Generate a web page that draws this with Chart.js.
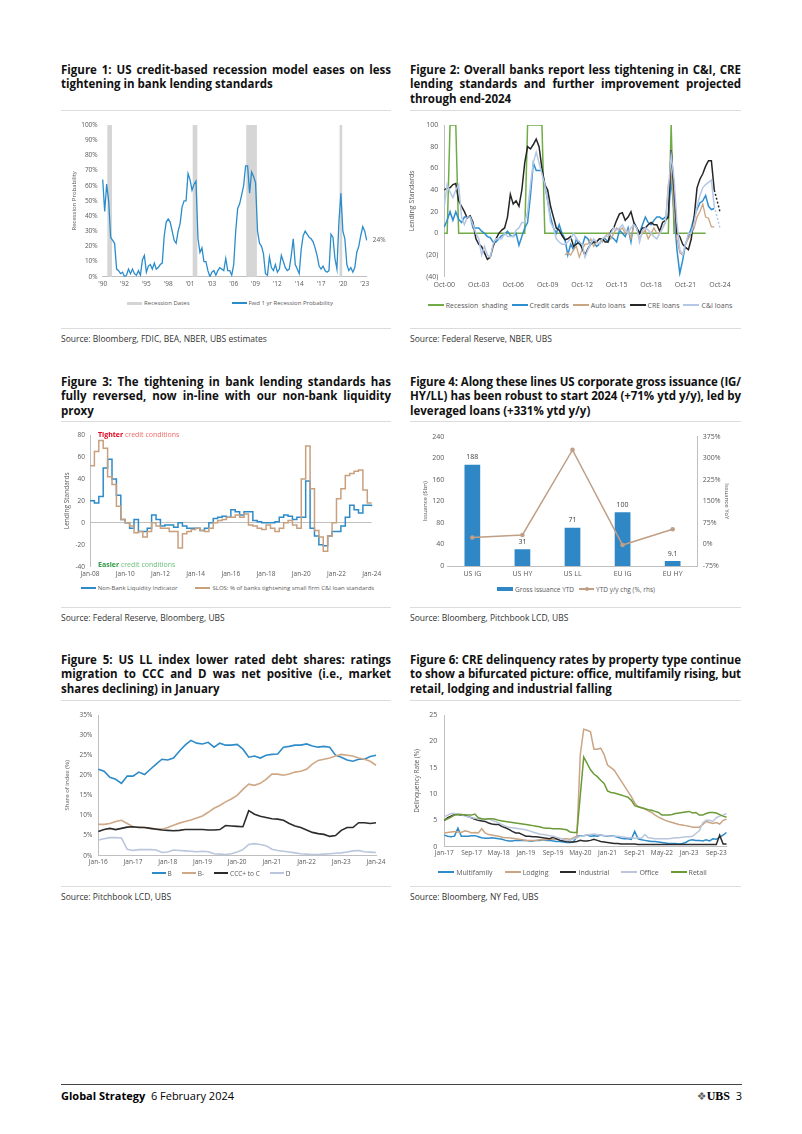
<!DOCTYPE html>
<html><head><meta charset="utf-8">
<script src="https://cdn.jsdelivr.net/npm/chart.js@4/dist/chart.umd.min.js"></script>
<style>
html,body{margin:0;padding:0;background:#fff}
body{width:802px;height:1134px;position:relative;overflow:hidden;font-family:'Open Sans',sans-serif;color:#000}
.t{position:absolute;font-weight:700;font-size:11.5px;line-height:14.8px;color:#111}
.t div{text-align:justify;text-align-last:justify}
.t div.last{text-align-last:left}
.rule{position:absolute;height:1px;background:#dcdcdc}
.src{position:absolute;font-size:8.5px;color:#333;line-height:12px;white-space:nowrap}
.cw{position:absolute}
.lg{position:absolute;display:flex;justify-content:center;align-items:center;color:#595959;white-space:nowrap;height:12px}
.lg .it{display:flex;align-items:center}
.lg .mk{display:inline-block;margin-right:2px;position:relative}
.dot{position:absolute;left:50%;top:50%;width:4px;height:4px;border-radius:50%;margin:-2px 0 0 -2px}
</style></head><body>

<!-- Titles -->
<div class="t" style="left:61px;top:62.6px;width:330px">
<div>Figure 1: US credit-based recession model eases on less</div>
<div class="last">tightening in bank lending standards</div></div>
<div class="t" style="left:410px;top:62.6px;width:331px">
<div>Figure 2: Overall banks report less tightening in C&amp;I, CRE</div>
<div>lending standards and further improvement projected</div>
<div class="last">through end-2024</div></div>
<div class="t" style="left:61px;top:374.6px;width:330px">
<div>Figure 3: The tightening in bank lending standards has</div>
<div>fully reversed, now in-line with our non-bank liquidity</div>
<div class="last">proxy</div></div>
<div class="t" style="left:410px;top:374.6px;width:331px">
<div>Figure 4: Along these lines US corporate gross issuance (IG/</div>
<div>HY/LL) has been robust to start 2024 (+71% ytd y/y), led by</div>
<div class="last">leveraged loans (+331% ytd y/y)</div></div>
<div class="t" style="left:61px;top:652.6px;width:330px">
<div>Figure 5: US LL index lower rated debt shares: ratings</div>
<div>migration to CCC and D was net positive (i.e., market</div>
<div class="last">shares declining) in January</div></div>
<div class="t" style="left:410px;top:652.6px;width:331px">
<div>Figure 6: CRE delinquency rates by property type continue</div>
<div>to show a bifurcated picture: office, multifamily rising, but</div>
<div class="last">retail, lodging and industrial falling</div></div>

<!-- Rules -->
<div class="rule" style="left:61px;top:110px;width:330px"></div>
<div class="rule" style="left:410px;top:110px;width:331px"></div>
<div class="rule" style="left:61px;top:328px;width:330px"></div>
<div class="rule" style="left:410px;top:328px;width:331px"></div>
<div class="rule" style="left:61px;top:421px;width:330px"></div>
<div class="rule" style="left:410px;top:421px;width:331px"></div>
<div class="rule" style="left:61px;top:607px;width:330px"></div>
<div class="rule" style="left:410px;top:607px;width:331px"></div>
<div class="rule" style="left:61px;top:700px;width:330px"></div>
<div class="rule" style="left:410px;top:700px;width:331px"></div>
<div class="rule" style="left:61px;top:886px;width:330px"></div>
<div class="rule" style="left:410px;top:886px;width:331px"></div>

<!-- Sources -->
<div class="src" style="left:61px;top:333px">Source: Bloomberg, FDIC, BEA, NBER, UBS estimates</div>
<div class="src" style="left:410px;top:333px">Source: Federal Reserve, NBER, UBS</div>
<div class="src" style="left:61px;top:612px">Source: Federal Reserve, Bloomberg, UBS</div>
<div class="src" style="left:410px;top:612px">Source: Bloomberg, Pitchbook LCD, UBS</div>
<div class="src" style="left:61px;top:891px">Source: Pitchbook LCD, UBS</div>
<div class="src" style="left:410px;top:891px">Source: Bloomberg, NY Fed, UBS</div>

<!-- Charts -->
<div class="cw" style="left:61px;top:113px;width:330px;height:178px"><canvas id="c1"></canvas></div>
<div class="cw" style="left:405px;top:113px;width:345px;height:180px"><canvas id="c2"></canvas></div>
<div class="cw" style="left:61px;top:423px;width:330px;height:158px"><canvas id="c3"></canvas></div>
<div class="cw" style="left:405px;top:423px;width:345px;height:157px"><canvas id="c4"></canvas></div>
<div class="cw" style="left:61px;top:703px;width:330px;height:165px"><canvas id="c5"></canvas></div>
<div class="cw" style="left:410px;top:703px;width:335px;height:157px"><canvas id="c6"></canvas></div>

<!-- Legends -->
<div class="lg" style="left:65px;top:297px;width:330px;font-size:6px;gap:42px">
 <span class="it"><span class="mk" style="width:15px;height:3px;background:#d5d5d5"></span>Recession Dates</span>
 <span class="it"><span class="mk" style="width:15px;height:1.5px;background:#2b8ccb"></span>Fwd 1 yr Recession Probability</span>
</div>
<div class="lg" style="left:405px;top:299px;width:350px;font-size:7px;gap:4px">
 <span class="it"><span class="mk" style="width:16px;height:2px;background:#6fac46"></span>Recession&nbsp; shading</span>
 <span class="it"><span class="mk" style="width:16px;height:2px;background:#2e8fd0"></span>Credit cards</span>
 <span class="it"><span class="mk" style="width:16px;height:2px;background:#c9a584"></span>Auto loans</span>
 <span class="it"><span class="mk" style="width:16px;height:2px;background:#262626"></span>CRE loans</span>
 <span class="it"><span class="mk" style="width:16px;height:2px;background:#b4c7e7"></span>C&amp;I loans</span>
</div>
<div class="lg" style="left:61px;top:582px;width:333px;font-size:6px;gap:18px">
 <span class="it"><span class="mk" style="width:15px;height:2px;background:#2e8bc9"></span>Non-Bank Liquidity Indicator</span>
 <span class="it"><span class="mk" style="width:15px;height:2px;background:#c8a07e"></span>SLOS: % of banks tightening small firm C&amp;I loan standards</span>
</div>
<div class="lg" style="left:410px;top:583px;width:332px;font-size:6.5px;gap:5px">
 <span class="it"><span class="mk" style="width:16px;height:4px;background:#2f87c6"></span>Gross issuance YTD</span>
 <span class="it"><span class="mk" style="width:15px;height:1.5px;background:#bf9f86"><span class="dot" style="background:#bf9f86"></span></span>YTD y/y chg (%, rhs)</span>
</div>
<div class="lg" style="left:61px;top:867px;width:320px;font-size:6.5px;gap:10px">
 <span class="it"><span class="mk" style="width:14px;height:2px;background:#2e8bc9"></span>B</span>
 <span class="it"><span class="mk" style="width:14px;height:2px;background:#cfa886"></span>B-</span>
 <span class="it"><span class="mk" style="width:14px;height:2px;background:#2b2b2b"></span>CCC+ to C</span>
 <span class="it"><span class="mk" style="width:14px;height:2px;background:#b9c6dc"></span>D</span>
</div>
<div class="lg" style="left:410px;top:866px;width:325px;font-size:7px;gap:12px">
 <span class="it"><span class="mk" style="width:16px;height:2px;background:#2e8bc9"></span>Multifamily</span>
 <span class="it"><span class="mk" style="width:16px;height:2px;background:#c9a584"></span>Lodging</span>
 <span class="it"><span class="mk" style="width:16px;height:2px;background:#2b2b2b"></span>Industrial</span>
 <span class="it"><span class="mk" style="width:16px;height:2px;background:#b9c6dc"></span>Office</span>
 <span class="it"><span class="mk" style="width:16px;height:2px;background:#6b9b37"></span>Retail</span>
</div>

<!-- Footer -->
<div class="rule" style="left:61px;top:1084px;width:681px;background:#444"></div>
<div style="position:absolute;left:61px;top:1089px;font-size:11px;line-height:14px;white-space:nowrap"><b>Global Strategy</b>&nbsp; 6 February 2024</div>
<div style="position:absolute;right:60px;top:1089px;font-size:11px;line-height:14px;white-space:nowrap"><span style="color:#666;font-family:'DejaVu Sans'">❖</span><span style="font-family:'Liberation Serif';font-weight:700;font-size:12px">UBS</span>&nbsp; 3</div>

<script>
// ---------------- DATA ----------------
// Figure 1 (quarterly from 1990Q1)
const fig1XTicks = ["'90","'92","'95","'98","'01","'03","'06","'09","'12","'14","'17","'20","'23"];
const fig1Prob = [64,43,61,50,26,24,22,5,4,2,
 3,0,1,5,2,5,2,1,4,1,
 11,14,3,7,8,5,9,5,6,8,
 9,27,36,38,36,30,24,22,30,35,
 46,50,50,68,64,57,61,63,25,16,
 19,10,10,4,0,3,4,1,4,6,
 5,4,12,4,4,1,8,30,45,48,
 54,60,73,73,55,69,66,62,30,22,
 20,15,2,1,13,6,4,8,3,5,
 14,10,6,4,5,14,25,8,5,2,
 18,27,30,28,26,25,23,19,14,7,
 5,7,4,3,4,28,26,12,5,36,
 55,30,25,8,4,6,3,6,16,20,
 27,33,30,24];
const fig1RecessionQuarters = ['1990Q4','1991Q1','2001Q3','2001Q4','2008Q2','2008Q3','2008Q4','2009Q1','2009Q2','2020Q1'];

// Figure 2 (quarterly from Oct-00)
const fig2Recession = [0,0,100,100,100,0,0,0,0,0, 0,0,0,0,0,0,0,0,0,0, 0,0,0,0,0,0,0,0,0,100,
 100,100,100,100,100,0,0,0,0,0, 0,0,0,0,0,0,0,0,0,0, 0,0,0,0,0,0,0,0,0,0, 0,0,0,0,0,0,0,0,0,0,
 0,0,0,0,0,0,0,0,0,100, 0,0,0,0,0,0,0,0,0,0, 0,0,null,null,null,null,null];
const fig2CreditCards = [6,12,20,12,20,13,10,15,15,16,
 5,5,5,2,0,-3,-4,-8,-8,-5,
 -2,-1,2,-2,-3,0,-11,-3,5,10,
 35,65,58,58,58,45,30,15,5,0,
 8,0,-5,-20,-10,-15,-5,-10,-12,-3,
 -5,-10,-8,-12,-10,-5,-5,-8,-3,-5,
 -8,3,0,-3,5,-8,10,5,0,8,
 15,10,8,12,15,15,13,15,15,50,
 20,-15,-37,-25,-10,-3,5,15,22,28,
 30,35,25,22,23,null,null];
const fig2Auto = [null,null,null,null,null,null,null,null,null,null,
 null,null,null,null,null,null,null,null,null,null,
 null,null,null,null,null,null,null,null,null,null,
 null,null,null,null,null,null,null,null,null,null,
 null,null,-20,-18,-20,-15,-12,-22,-15,-10,
 -10,-5,-12,-8,-5,-8,-3,0,-5,0,
 5,3,5,0,3,-5,8,5,-5,0,
 3,-5,0,5,0,0,5,10,45,55,
 20,-5,-18,-20,-10,-5,0,5,15,20,
 27,15,14,6,6,null,null];
const fig2CRE = [40,42,42,45,46,30,25,20,14,16,
 10,-5,-10,-12,-18,-24,-22,-12,-5,0,
 3,5,15,36,27,30,25,40,65,80,
 78,82,87,80,60,45,40,25,15,5,
 3,-2,-6,-5,-3,-12,-10,-8,-14,-20,
 -14,-10,-8,-8,-5,-5,-8,-8,2,5,
 12,18,19,12,15,20,10,5,0,5,
 5,8,10,8,8,2,10,12,15,77,
 40,0,-3,-10,-13,-15,-5,15,42,50,
 55,62,67,67,40,30,20];
const fig2CI = [25,45,38,33,40,45,15,8,15,15,
 8,0,-5,-20,-12,-20,-22,-10,-5,-5,
 -5,0,-3,-3,-3,3,5,10,10,20,
 45,65,75,65,55,45,30,10,5,-5,
 -8,-10,-10,-8,-5,0,-5,-8,-10,-22,
 -15,-10,-5,-8,-10,-5,-3,-3,0,5,
 3,5,8,3,0,5,8,5,-8,3,
 5,3,0,-3,-5,0,5,10,40,72,
 50,10,-15,-20,-10,0,0,10,25,35,
 42,45,47,49,25,15,5];
const fig2ProjectionStart = 94;

// Figure 3 (quarterly from Jan-08)
const fig3Slos = [52,65,75,68,42,35,15,3,0,-3,
 -9,-8,-13,-8,0,-3,-5,-5,-8,-8,
 -23,-10,-8,-6,-5,-7,-8,-5,0,2,
 3,5,5,7,5,8,-2,-3,-5,-6,
 -2,-5,-8,-5,0,2,-2,-5,40,70,
 31,-7,-13,-26,-12,0,22,31,43,45,
 47,48,30,18,18];
const fig3NonBank = [20,18,24,50,58,40,25,3,0,-5,
 3,-8,-8,-5,7,3,-3,-2,-2,-4,
 0,-3,-5,-5,-5,-7,-5,0,4,5,
 6,5,12,10,7,10,10,2,1,0,
 0,0,1,5,7,6,3,5,5,38,
 -5,-12,-20,-21,-12,-8,-8,-3,5,16,
 12,9,16,16,15];

// Figure 4
const fig4Cats = ['US IG','US HY','US LL','EU IG','EU HY'];
const fig4Issuance = [188,31,71,100,9.1];
const fig4YoY = [24,33,329,-2,53];

// Figure 5 (every two months from Jan-16)
const fig5B = [21.5,21,19.5,19,18,19.8,19.8,20.8,20.2,21.5, 22.8,24,23.8,24.3,26,27.5,28.7,28,27.8,28.2,
 27,28,27.5,27.5,27.7,26.5,24.5,24.8,24.3,25, 25.2,25.3,27,27.2,27.5,27.5,27.8,27.3,27,27.2,
 27,25,24.5,23.8,23.5,24,24,24.7,25];
const fig5BMinus = [7.8,7.8,8,8.5,8.8,8,7.2,7.1,7,6.8, 6.7,6.6,7,7.6,8.1,8.5,8.9,9.4,9.9,10.8,
 11.8,12.5,13.4,14.1,15,16.5,17.8,17.5,18,19, 20.3,20.3,20,20.3,20.8,21,21.5,22.8,23.7,24,
 24.3,24.8,25.2,25,24.8,24.3,24,23.5,22.5];
const fig5CCC = [6,6.5,6.8,6.5,6.8,7.1,7.2,7,7,6.8, 6.6,6.4,6.3,6.2,6.3,6.5,6.5,6.5,6.5,6.4,
 6.4,6.5,7.5,7.4,7.3,7.2,11.2,10.3,9.8,9.5, 9.2,9.1,8.8,8,7.4,7,6.4,5.8,5.5,5.3,
 4.8,5,6.3,7,7,8.2,8.2,8,8.2];
const fig5D = [3.9,4.2,4.5,4.5,4.4,1.6,1.3,1.5,1.5,1.5, 1.4,0.8,0.9,1.4,1.3,1.2,1.1,1,1.1,1,
 0.5,0.4,0.3,0.5,0.9,1.5,2.8,3,2.8,2.5, 1.6,1.3,1.1,0.9,0.7,0.5,0.4,0.3,0.3,0.4,
 0.5,0.6,0.7,0.9,1.2,1.3,1,0.9,0.8];

// Figure 6 (monthly from Jan-17)
const fig6Retail = [5,5.3,5.6,6,6.1,6.1,6,6,6,6.2, 5.5,5.3,5.2,5.3,5.3,5.2,5,4.9,4.8,4.7,
 4.6,4.5,4.4,4.3,4.2,4.1,4,3.9,3.8,3.6, 3.5,3.5,3.4,3.4,3.4,3.3,3.2,2.8,2.7,2.7,
 9.8,17,15.8,14.6,13.8,13.3,12.6,12,10.6,10.3, 10.2,10,9.8,9.6,9.4,8.8,7.8,7.6,7.4,7.2,
 7,6.9,6.7,6.5,6,6,6,6.1,6.3,6.4, 6.5,6.6,6.7,6.4,6.5,6,6,6.3,6.5,6.5, 6.4,6.1,5.8,5.6];
const fig6Lodging = [2.6,2.7,2.8,2.9,2.8,2.7,3,2.9,2.6,2.7, 2.6,3.4,2.6,2.3,2.2,2.1,2,1.8,1.7,1.7,
 1.6,1.5,1.4,1.3,1.2,1.2,1.2,1.2,1.3,1.3, 1.3,1.4,1.4,1.4,1.5,1.5,1.5,1.4,1.7,2,
 17.5,22.3,22.1,21.8,18.5,18.5,18.7,17.5,15.5,15, 14.5,13.5,12.5,11.5,10.5,9.5,8.3,7.6,7.4,7.2,
 6.8,6.5,6,5.6,5.3,5,4.8,4.6,4.4,4.2, 4.1,4,3.9,3.7,3.7,3.7,4.2,4.8,4.6,4.4, 4.6,4.3,5,5.2];
const fig6Industrial = [5,5.5,5.8,6.1,6.1,6,6,5.7,5.5,5.2, 5,4.9,4.8,4.5,4.3,4.2,4.2,3.8,3.6,3.3,
 2.9,2.6,2.6,2.3,2,2,1.9,1.9,1.8,1.7, 1.6,1.5,1.8,1.5,1.2,1.1,1,0.9,0.9,1,
 1.2,1.1,1.1,1.2,1.4,1.2,1,0.9,0.8,0.7, 0.6,0.6,0.5,0.5,0.5,0.5,0.5,0.4,0.4,0.4,
 0.4,0.4,0.4,0.4,0.4,0.4,0.4,0.4,0.4,0.4, 0.4,0.4,0.4,0.4,0.4,0.4,0.4,0.4,0.4,0.4, 0.4,2.2,0.5,0.5];
const fig6Multifamily = [2.2,2,1.9,2,3.5,2,2,2,2.1,2.1, 1.9,1.7,1.6,1.6,1.7,1.6,1.5,1.4,1.2,1.1,
 1.1,1.2,1.2,1.2,1.2,1.1,1.1,1.2,1.2,1.3, 1.2,1.2,1.1,1,1,0.9,0.8,0.8,0.9,2,
 2.1,2.1,2.2,2,2.1,2,2.2,2.1,2,2.1, 2,1.8,1.6,1.5,1.5,1.4,2.9,1.5,1.3,1.2,
 1.1,1,1,0.9,0.8,0.7,0.6,0.6,0.6,0.5, 0.6,0.8,1.2,1.3,1.2,1.2,1.1,1.3,1.1,1.5, 1.4,1.8,2.2,2.7];
const fig6Office = [5.7,6,6.3,6.3,6.2,6.1,5.8,5.7,5.5,5.4, 5.3,5.2,5.2,5.3,5,4.8,4.5,4.2,3.9,3.7,
 3.6,3.5,3.4,3.3,3.2,3,2.8,2.6,2.4,2.3, 2.2,2.1,2,1.8,1.6,1.4,1.2,1.2,1.5,1.7,
 2,2.1,2.2,2.3,2.4,2.3,2.2,2.1,2.1,2, 2,2,1.9,1.8,1.7,1.7,1.6,1.7,1.6,2.3,
 1.7,1.6,1.5,1.5,1.5,1.5,1.5,1.6,1.7,1.7, 1.8,1.9,1.9,2,2.5,3,4.5,5,5,4.8, 5.5,5.8,6,6.3];

// ---------------- CATEGORIES ----------------
const yy = y => String(y).slice(2);
const fig1Quarters = fig1Prob.map((_, k) => (1990 + Math.floor(k / 4)) + 'Q' + (k % 4 + 1));
const fig1Recession = fig1Quarters.map(q => fig1RecessionQuarters.includes(q) ? 100 : null);
const qMon = ['Jan','Apr','Jul','Oct'];
const fig2Quarters = fig2CRE.map((_, k) => qMon[(3 + k) % 4] + '-' + yy(2000 + Math.floor((3 + k) / 4)));
const fig3Quarters = fig3Slos.map((_, k) => qMon[k % 4] + '-' + yy(2008 + Math.floor(k / 4)));
const bMon = ['Jan','Mar','May','Jul','Sep','Nov'];
const fig5Months = fig5B.map((_, k) => bMon[k % 6] + '-' + yy(2016 + Math.floor(k / 6)));
const mon = ['Jan','Feb','Mar','Apr','May','Jun','Jul','Aug','Sep','Oct','Nov','Dec'];
const fig6Months = fig6Retail.map((_, k) => mon[k % 12] + '-' + yy(2017 + Math.floor(k / 12)));

// ---------------- CHARTS ----------------
Chart.defaults.font.family = "'Open Sans', sans-serif";
Chart.defaults.color = '#595959';
Chart.defaults.animation = false;
Chart.defaults.plugins.legend.display = false;
Chart.defaults.plugins.tooltip.enabled = false;
Chart.defaults.elements.point.radius = 0;
Chart.defaults.elements.line.tension = 0;
const AX = '#bfbfbf';
const NOGRID = { display: false, drawTicks: false };

// Figure 1
const fig1Label = { id: 'lastLabel', afterDatasetsDraw(chart) {
  const meta = chart.getDatasetMeta(1); const pt = meta.data[meta.data.length - 1];
  const ctx = chart.ctx; ctx.save(); ctx.font = "6.5px 'Open Sans'"; ctx.fillStyle = '#595959';
  ctx.textBaseline = 'middle'; ctx.fillText(fig1Prob[fig1Prob.length - 1] + '%', pt.x + 6, pt.y); ctx.restore(); } };
new Chart(document.getElementById('c1'), {
  type: 'bar',
  data: { labels: fig1Quarters, datasets: [
    { type: 'bar', label: 'Recession Dates', data: fig1Recession, backgroundColor: '#d5d5d5', barPercentage: 1, categoryPercentage: 1, order: 2 },
    { type: 'line', label: 'Fwd 1 yr Recession Probability', data: fig1Prob, borderColor: '#2b8ccb', borderWidth: 1.3, pointRadius: 0, order: 1 }
  ]},
  options: { responsive: true, maintainAspectRatio: false,
    layout: { padding: { top: 12, right: 24.3, bottom: 0, left: 0 } },
    scales: {
      x: { offset: false, grid: NOGRID, border: { display: true, color: AX },
        ticks: { autoSkip: false, maxRotation: 0, padding: 3.5, font: { size: 6.5 }, callback: (v, i) => i % 11 === 0 ? fig1XTicks[i / 11] : null },
        afterFit: s => { s.height = 14.3; } },
      y: { min: 0, max: 100, grid: NOGRID, border: { display: false },
        ticks: { stepSize: 10, padding: 5, font: { size: 6.5 }, callback: v => v + '%' },
        title: { display: true, text: 'Recession Probability', font: { size: 6 }, padding: { top: 10, bottom: 0 } },
        afterFit: s => { s.width = 41.7; } }
    } },
  plugins: [fig1Label]
});

// Figure 2
const dashAfter = c => c.p0DataIndex >= fig2ProjectionStart ? [2, 2] : undefined;
new Chart(document.getElementById('c2'), {
  type: 'line',
  data: { labels: fig2Quarters, datasets: [
    { label: 'Recession  shading', data: fig2Recession, borderColor: '#6fac46', borderWidth: 1.5, order: 5 },
    { label: 'Credit cards', data: fig2CreditCards, borderColor: '#2e8fd0', borderWidth: 1.5, order: 4 },
    { label: 'Auto loans', data: fig2Auto, borderColor: '#c9a584', borderWidth: 1.3, order: 3 },
    { label: 'CRE loans', data: fig2CRE, borderColor: '#262626', borderWidth: 1.5, order: 2, segment: { borderDash: dashAfter } },
    { label: 'C&I loans', data: fig2CI, borderColor: '#b4c7e7', borderWidth: 1.5, order: 1, segment: { borderDash: dashAfter } }
  ]},
  options: { responsive: true, maintainAspectRatio: false,
    layout: { padding: { top: 12, right: 30, bottom: 0, left: 0 } },
    scales: {
      x: { offset: false, grid: NOGRID, border: { display: false },
        ticks: { autoSkip: false, maxRotation: 0, padding: 4, font: { size: 7 }, callback: (v, i) => i % 12 === 0 ? fig2Quarters[i] : null },
        afterFit: s => { s.height = 16.3; } },
      y: { min: -40, max: 100, grid: NOGRID, border: { display: true, color: AX },
        ticks: { stepSize: 20, padding: 6, font: { size: 7 }, callback: v => v < 0 ? '(' + (-v) + ')' : v },
        title: { display: true, text: 'Lending Standards', font: { size: 7 }, padding: { top: 3, bottom: 0 } },
        afterFit: s => { s.width = 39.3; } }
    } }
});

// Figure 3
const fig3Notes = { id: 'notes', afterDatasetsDraw(chart) {
  const { ctx, chartArea: a } = chart; ctx.save(); ctx.textBaseline = 'middle';
  const put = (bold, rest, y, c1, c2) => {
    ctx.font = "bold 7px 'Open Sans'"; ctx.fillStyle = c1; ctx.fillText(bold, a.left + 8, y);
    const w = ctx.measureText(bold + ' ').width; ctx.font = "7px 'Open Sans'"; ctx.fillStyle = c2; ctx.fillText(rest, a.left + 8 + w, y); };
  put('Tighter', 'credit conditions', a.top, '#e3001b', '#ee6a6a');
  put('Easier', 'credit conditions', a.bottom - 2, '#2e9b45', '#6cc07a');
  ctx.restore(); } };
new Chart(document.getElementById('c3'), {
  type: 'line',
  data: { labels: fig3Quarters, datasets: [
    { label: 'Non-Bank Liquidity Indicator', data: fig3NonBank, borderColor: '#2e8bc9', borderWidth: 1.5, stepped: 'before', order: 2 },
    { label: 'SLOS: % of banks tightening small firm C&I loan standards', data: fig3Slos, borderColor: '#c8a07e', borderWidth: 1.5, stepped: 'before', order: 1 }
  ]},
  options: { responsive: true, maintainAspectRatio: false,
    layout: { padding: { top: 12, right: 19.3, bottom: 0, left: 0 } },
    scales: {
      x: { offset: false, grid: NOGRID, border: { display: false },
        ticks: { autoSkip: false, maxRotation: 0, padding: 4, font: { size: 6.5 }, callback: (v, i) => i % 8 === 0 ? fig3Quarters[i] : null },
        afterFit: s => { s.height = 14.3; } },
      y: { min: -40, max: 80, border: { display: true, color: AX },
        grid: { drawTicks: false, color: c => c.tick && c.tick.value === 0 ? AX : 'rgba(0,0,0,0)' },
        ticks: { stepSize: 20, padding: 5, font: { size: 6.5 } },
        title: { display: true, text: 'Lending Standards', font: { size: 6.5 }, padding: { top: 2.5, bottom: 0 } },
        afterFit: s => { s.width = 29; } }
    } },
  plugins: [fig3Notes]
});

// Figure 4
const fig4Labels = { id: 'barLabels', afterDatasetsDraw(chart) {
  const meta = chart.getDatasetMeta(0); const ctx = chart.ctx; ctx.save();
  ctx.font = "7px 'Open Sans'"; ctx.fillStyle = '#404040'; ctx.textAlign = 'center'; ctx.textBaseline = 'bottom';
  meta.data.forEach((b, i) => ctx.fillText(String(fig4Issuance[i]), b.x, b.y - 4)); ctx.restore(); } };
new Chart(document.getElementById('c4'), {
  type: 'bar',
  data: { labels: fig4Cats, datasets: [
    { type: 'bar', label: 'Gross issuance YTD', data: fig4Issuance, backgroundColor: '#2f87c6', barPercentage: 0.314, categoryPercentage: 1, yAxisID: 'y', order: 2 },
    { type: 'line', label: 'YTD y/y chg (%, rhs)', data: fig4YoY, borderColor: '#bf9f86', borderWidth: 1.5, pointRadius: 2.3, pointBackgroundColor: '#bf9f86', pointBorderWidth: 0, yAxisID: 'y1', order: 1 }
  ]},
  options: { responsive: true, maintainAspectRatio: false,
    layout: { padding: { top: 13.7, right: 0, bottom: 0, left: 0 } },
    scales: {
      x: { grid: NOGRID, border: { display: true, color: AX },
        ticks: { padding: 4, font: { size: 7 } }, afterFit: s => { s.height = 14; } },
      y: { position: 'left', min: 0, max: 240, grid: NOGRID, border: { display: false },
        ticks: { stepSize: 40, padding: 3, font: { size: 7 } },
        title: { display: true, text: 'Issuance ($bn)', font: { size: 6 }, padding: { top: 17, bottom: 0 } },
        afterFit: s => { s.width = 42.3; } },
      y1: { position: 'right', min: -75, max: 375, grid: NOGRID, border: { display: true, color: AX },
        ticks: { stepSize: 75, padding: 5, font: { size: 7 }, callback: v => v + '%' },
        title: { display: true, text: 'Issuance YoY', font: { size: 6 }, padding: { top: 19.5, bottom: 0 } },
        afterFit: s => { s.width = 52.3; } }
    } },
  plugins: [fig4Labels]
});

// Figure 5
new Chart(document.getElementById('c5'), {
  type: 'line',
  data: { labels: fig5Months, datasets: [
    { label: 'B', data: fig5B, borderColor: '#2e8bc9', borderWidth: 1.6, order: 4 },
    { label: 'B-', data: fig5BMinus, borderColor: '#cfa886', borderWidth: 1.6, order: 3 },
    { label: 'CCC+ to C', data: fig5CCC, borderColor: '#2b2b2b', borderWidth: 1.6, order: 2 },
    { label: 'D', data: fig5D, borderColor: '#b9c6dc', borderWidth: 1.6, order: 1 }
  ]},
  options: { responsive: true, maintainAspectRatio: false,
    layout: { padding: { top: 12, right: 15, bottom: 0, left: 0 } },
    scales: {
      x: { offset: false, grid: NOGRID, border: { display: true, color: AX },
        ticks: { autoSkip: false, maxRotation: 0, padding: 3, font: { size: 6.5 }, callback: (v, i) => i % 6 === 0 ? fig5Months[i] : null },
        afterFit: s => { s.height = 12.3; } },
      y: { min: 0, max: 35, grid: NOGRID, border: { display: true, color: AX },
        ticks: { stepSize: 5, padding: 6, font: { size: 6.5 }, callback: v => v + '%' },
        title: { display: true, text: 'Share of index (%)', font: { size: 6 }, padding: { top: 3, bottom: 0 } },
        afterFit: s => { s.width = 37.3; } }
    } }
});

// Figure 6
new Chart(document.getElementById('c6'), {
  type: 'line',
  data: { labels: fig6Months, datasets: [
    { label: 'Multifamily', data: fig6Multifamily, borderColor: '#2e8bc9', borderWidth: 1.5, order: 5 },
    { label: 'Lodging', data: fig6Lodging, borderColor: '#c9a584', borderWidth: 1.5, order: 4 },
    { label: 'Industrial', data: fig6Industrial, borderColor: '#2b2b2b', borderWidth: 1.5, order: 3 },
    { label: 'Office', data: fig6Office, borderColor: '#b9c6dc', borderWidth: 1.5, order: 2 },
    { label: 'Retail', data: fig6Retail, borderColor: '#6b9b37', borderWidth: 1.5, order: 1 }
  ]},
  options: { responsive: true, maintainAspectRatio: false,
    layout: { padding: { top: 12, right: 18.5, bottom: 0, left: 0 } },
    scales: {
      x: { offset: false, grid: NOGRID, border: { display: true, color: AX },
        ticks: { autoSkip: false, maxRotation: 0, padding: 3, font: { size: 6.5 }, callback: (v, i) => i % 8 === 0 ? fig6Months[i] : null },
        afterFit: s => { s.height = 13.3; } },
      y: { min: 0, max: 25, grid: NOGRID, border: { display: true, color: AX },
        ticks: { stepSize: 5, padding: 7, font: { size: 7 } },
        title: { display: true, text: 'Delinquency Rate (%)', font: { size: 6.5 }, padding: { top: 2.8, bottom: 0 } },
        afterFit: s => { s.width = 34.3; } }
    } }
});

// fit justified title lines on one line each
document.querySelectorAll('.t div').forEach(d => {
  let ls = 0;
  while (d.scrollHeight > 17 && ls > -1.5) { ls -= 0.05; d.style.letterSpacing = ls + 'px'; }
});
</script>
</body></html>
